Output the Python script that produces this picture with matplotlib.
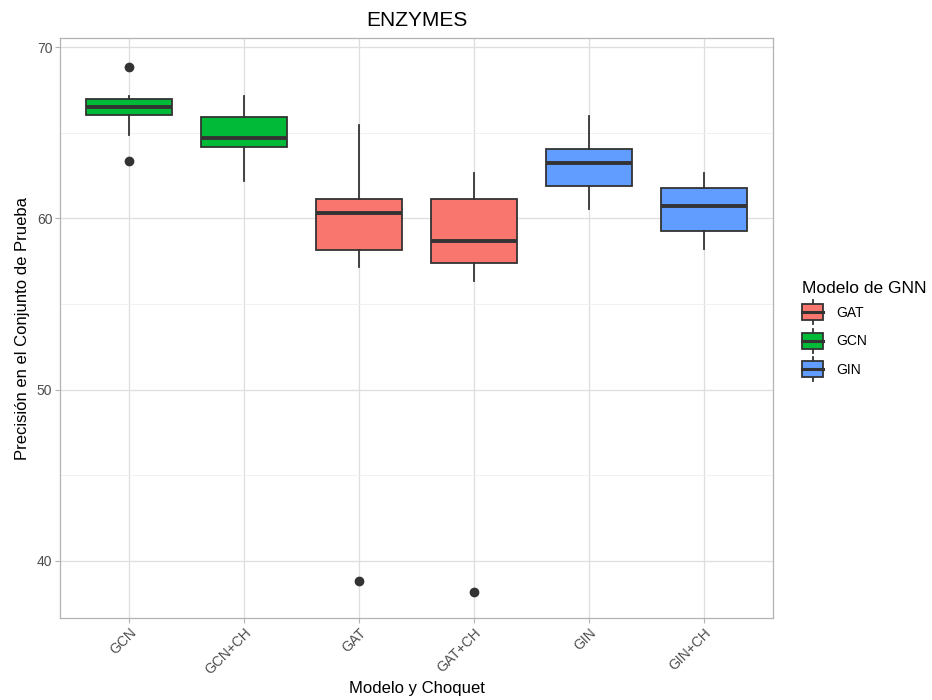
import matplotlib
matplotlib.use("Agg")
import matplotlib.pyplot as plt
from matplotlib.legend_handler import HandlerBase
from matplotlib.patches import Rectangle
from matplotlib.lines import Line2D

plt.rcParams['font.family'] = ['Liberation Sans', 'DejaVu Sans']

# resumen de cada caja (precision en test, ENZYMES)
grupos = ["GCN", "GCN+CH", "GAT", "GAT+CH", "GIN", "GIN+CH"]
modelo = ["GCN", "GCN", "GAT", "GAT", "GIN", "GIN"]
bigote_inf = [64.85, 62.17, 57.19, 56.36, 60.54, 58.20]
q1 = [66.03, 64.15, 58.18, 57.42, 61.88, 59.27]
mediana = [66.48, 64.69, 60.34, 58.67, 63.25, 60.75]
q3 = [66.97, 65.92, 61.12, 61.12, 64.03, 61.76]
bigote_sup = [67.13, 67.13, 65.45, 62.63, 65.99, 62.63]
atipicos = [[68.83, 63.33], [], [38.84], [38.18], [], []]

modelos_gnn = ["GAT", "GCN", "GIN"]
colores = {"GAT": "#F8766D", "GCN": "#00BA38", "GIN": "#619CFF"}
borde = "#333333"

fig = plt.figure(figsize=(9.32, 7.0), dpi=100)
ax = fig.add_axes([60 / 932, 82 / 700, 713 / 932, 580 / 700])

stats = []
for i, g in enumerate(grupos):
    stats.append(dict(label=g, whislo=bigote_inf[i], q1=q1[i], med=mediana[i],
                      q3=q3[i], whishi=bigote_sup[i], fliers=atipicos[i]))

pos = list(range(1, len(grupos) + 1))
res = ax.bxp(stats, positions=pos, widths=0.75, patch_artist=True, showcaps=False,
             boxprops=dict(edgecolor=borde, linewidth=1.3),
             medianprops=dict(color=borde, linewidth=2.8, solid_capstyle="butt"),
             whiskerprops=dict(color=borde, linewidth=1.3),
             flierprops=dict(marker="o", markersize=6, markerfacecolor=borde,
                             markeredgecolor=borde))
for caja, m in zip(res["boxes"], modelo):
    caja.set_facecolor(colores[m])

ax.set_xlim(0.4, 6.6)
ax.set_ylim(36.67, 70.53)
ax.set_yticks([40, 50, 60, 70])
ax.set_yticks([45, 55, 65], minor=True)
ax.set_xticks(pos)
ax.set_xticklabels(grupos, rotation=45, ha="right", va="top", rotation_mode="anchor")
ax.set_axisbelow(True)
ax.grid(which="major", color="#DEDEDE", linewidth=0.9)
ax.grid(which="minor", axis="y", color="#EFEFEF", linewidth=0.6)
for s in ax.spines.values():
    s.set_color("#B3B3B3")
    s.set_linewidth(0.9)
ax.tick_params(which="major", length=3.5, color="#B3B3B3", labelsize=10,
               labelcolor="#4D4D4D", pad=2)
ax.tick_params(which="minor", length=0)

ax.set_title("ENZYMES", fontsize=15, pad=9)
ax.set_xlabel("Modelo y Choquet", fontsize=12, labelpad=3)
ax.set_ylabel("Precisión en el Conjunto de Prueba", fontsize=12, labelpad=5)


class HandlerCaja(HandlerBase):
    def create_artists(self, legend, orig_handle, xdescent, ydescent, width,
                       height, fontsize, trans):
        x0, y0 = -xdescent, -ydescent
        cx = x0 + width / 2
        caja = Rectangle((x0, y0 + height * 0.17), width, height * 0.66,
                         facecolor=orig_handle.get_facecolor(), edgecolor=borde,
                         linewidth=1.3, transform=trans)
        med = Line2D([x0, x0 + width], [y0 + height / 2] * 2, color=borde,
                     linewidth=2.2, transform=trans)
        arriba = Line2D([cx, cx], [y0 + height * 0.83, y0 + height], color=borde,
                        linewidth=1.3, transform=trans)
        abajo = Line2D([cx, cx], [y0, y0 + height * 0.17], color=borde,
                       linewidth=1.3, transform=trans)
        return [arriba, abajo, caja, med]


handles = [Rectangle((0, 0), 1, 1, facecolor=colores[m]) for m in modelos_gnn]
leg = fig.legend(handles, modelos_gnn, title="Modelo de GNN", loc="upper left",
                 bbox_to_anchor=(795 / 932, 1 - 274 / 700), frameon=False,
                 fontsize=10, title_fontsize=12.5, handlelength=1.55,
                 handleheight=2.28, labelspacing=0.32, handletextpad=0.9,
                 borderpad=0, alignment="left",
                 handler_map={Rectangle: HandlerCaja()})

fig.savefig("out.png", dpi=100, facecolor="white")
